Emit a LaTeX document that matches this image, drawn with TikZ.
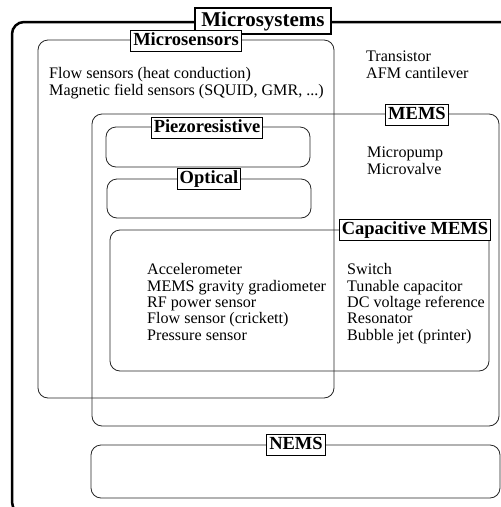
\documentclass[tikz,border=0pt]{standalone}
\usepackage{fontspec}
\setmainfont{Liberation Serif}
\begin{document}
\begin{tikzpicture}[x=1pt,y=-1pt,
  grp/.style={draw=black!85, line width=0.8pt, rounded corners=10pt},
  ttl/.style={draw=black, fill=white, line width=0.8pt, font=\fontsize{18.5}{20}\selectfont\bfseries, inner xsep=2.5pt, inner ysep=2pt, text height=12.5pt, text depth=4pt},
  bigttl/.style={draw=black, fill=white, line width=2pt, font=\fontsize{21}{23}\selectfont\bfseries, inner xsep=6pt, inner ysep=3.5pt, text height=14.5pt, text depth=4.5pt},
  itm/.style={anchor=base west, inner sep=0pt, font=\fontsize{16.1}{17}\selectfont}]
\useasboundingbox (0,0) rectangle (501,507);
\begin{scope}
\clip (0,0) rectangle (501,507);
\draw[line width=2.5pt, rounded corners=12pt] (12,22) rectangle (560,514);
\end{scope}
% group boxes
\draw[grp] (38,40) rectangle (334,398);
\draw[grp] (92,114) rectangle (499,426);
\draw[grp] (106,127) rectangle (310,167);
\draw[grp] (107,179) rectangle (311,218);
\draw[grp] (110,230) rectangle (489,371);
\draw[grp] (91,445) rectangle (500,498);
% titles
\node[bigttl] (tsys) at (263,21) {Microsystems};
\node[ttl] (tsen) at (186,41) {Microsensors};
\node[ttl] (tmems) at (417,115) {MEMS};
\node[ttl] (tpiezo) at (207,128) {Piezoresistive};
\node[ttl] (topt) at (209,179) {Optical};
\node[ttl] (tcap) at (415,230) {Capacitive MEMS};
\node[ttl] (tnems) at (296,445) {NEMS};
% texts
\node[itm] (s1) at (49,78) {Flow sensors (heat conduction)};
\node[itm] (s2) at (49,95) {Magnetic field sensors (SQUID, GMR, ...)};
\node[itm] (o1) at (366,61) {Transistor};
\node[itm] (o2) at (366,78) {AFM cantilever};
\node[itm] (m1) at (367,157) {Micropump};
\node[itm] (m2) at (367,174) {Microvalve};
\node[itm] (a1) at (147,274) {Accelerometer};
\node[itm] (a2) at (147,291) {MEMS gravity gradiometer};
\node[itm] (a3) at (147,307) {RF power sensor};
\node[itm] (a4) at (147,323) {Flow sensor (crickett)};
\node[itm] (a5) at (147,340) {Pressure sensor};
\node[itm] (b1) at (347,274) {Switch};
\node[itm] (b2) at (347,291) {Tunable capacitor};
\node[itm] (b3) at (347,307) {DC voltage reference};
\node[itm] (b4) at (347,323) {Resonator};
\node[itm] (b5) at (347,340) {Bubble jet (printer)};
\end{tikzpicture}
\end{document}
